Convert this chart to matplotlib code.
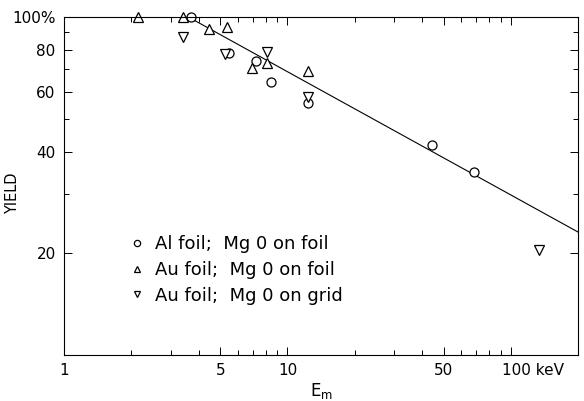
import matplotlib
matplotlib.use("Agg")
import matplotlib.pyplot as plt
from matplotlib.ticker import FixedLocator, NullFormatter

# Data
al_x = [3.7, 5.45, 7.2, 8.4, 12.4, 44.4, 68.4]
al_y = [100, 78.2, 74.1, 64.2, 55.6, 41.8, 34.8]

au_foil_x = [2.14, 3.4, 4.45, 5.34, 6.95, 8.1, 12.3]
au_foil_y = [100, 100, 92.1, 93.4, 70.6, 73.1, 69.2]

au_grid_x = [3.4, 5.23, 8.1, 12.3, 134]
au_grid_y = [87.3, 77.7, 78.8, 58.0, 20.4]

fit_x = [3.6, 200]
fit_y = [100, 23.1]

x_ticks = [1, 5, 10, 50, 100]
x_ticklabels = ["1", "5", "10", "50", ""]
x_unit_label = "100 keV"
y_ticks = [20, 40, 60, 80, 100]
y_ticklabels = ["20", "40", "60", "80", "100%"]

fig = plt.figure(figsize=(5.84, 4.01), dpi=100)
ax = fig.add_axes([0.1096, 0.1147, 0.8804, 0.8429])

ax.set_xscale("log")
ax.set_yscale("log")
ax.set_xlim(1, 200)
ax.set_ylim(10, 100)

ax.plot(fit_x, fit_y, color="black", lw=0.8)
mk = dict(linestyle="none", markerfacecolor="white", markeredgecolor="black",
          markeredgewidth=0.9, markersize=6.5, clip_on=False)
ax.plot(al_x, al_y, marker="o", label="Al foil;  Mg 0 on foil", **mk)
ax.plot(au_foil_x, au_foil_y, marker="^", label="Au foil;  Mg 0 on foil", **mk)
ax.plot(au_grid_x, au_grid_y, marker="v", label="Au foil;  Mg 0 on grid", **mk)

ax.xaxis.set_major_locator(FixedLocator(x_ticks))
ax.set_xticklabels(x_ticklabels)
ax.xaxis.set_minor_locator(FixedLocator([2, 3, 4, 6, 7, 8, 9, 20, 30, 40, 60, 70, 80, 90, 200]))
ax.xaxis.set_minor_formatter(NullFormatter())
ax.yaxis.set_major_locator(FixedLocator(y_ticks))
ax.set_yticklabels(y_ticklabels)
ax.yaxis.set_minor_locator(FixedLocator([30, 50, 70, 90]))
ax.yaxis.set_minor_formatter(NullFormatter())

ax.tick_params(which="both", direction="in", top=True, right=True, width=0.7)
ax.tick_params(which="major", length=6, labelsize=11, pad=6)
ax.tick_params(which="minor", length=3.5)
for s in ax.spines.values():
    s.set_linewidth(0.8)

# "100 keV" label, with "100" centred on its tick
ax.annotate(x_unit_label, xy=(100, 0), xycoords=("data", "axes fraction"),
            xytext=(16, -6), textcoords="offset points", ha="center", va="top",
            fontsize=11)

ax.set_xlabel(r"E$_{\mathregular{m}}$", fontsize=12, labelpad=2)
ax.set_ylabel("YIELD", fontsize=10.5)
ax.yaxis.set_label_coords(-0.086, 0.48)

leg = ax.legend(loc="upper left", bbox_to_anchor=(0.11, 0.375), frameon=False,
                fontsize=13, handletextpad=0.5, labelspacing=0.42,
                handlelength=1.0, borderaxespad=0)
for h in leg.legend_handles:
    h.set_markersize(4.5)

fig.savefig("out.png", dpi=100)
